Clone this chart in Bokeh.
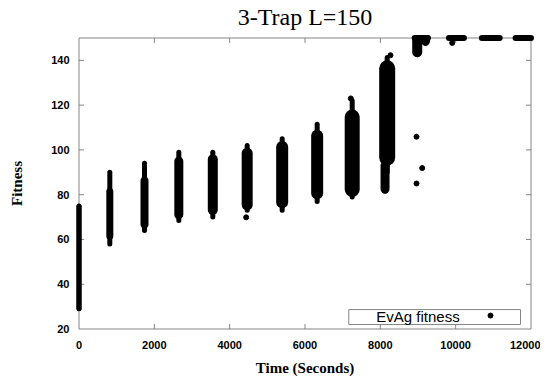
from bokeh.plotting import figure
from bokeh.models import ColumnDataSource, Range1d, FixedTicker, Label, BoxAnnotation
from bokeh.embed import file_html
from bokeh.resources import INLINE

# ---------------- data ----------------
TITLE = "3-Trap L=150"
X_LABEL = "Time (Seconds)"
Y_LABEL = "Fitness"
LEGEND_LABEL = "EvAg fitness"
X_TICKS = [0, 2000, 4000, 6000, 8000, 10000, 12000]
Y_TICKS = [20, 40, 60, 80, 100, 120, 140]
X_LIM = [0, 12000]
Y_LIM = [20, 150]

# vertical point clouds (time of snapshot, extreme points, dense core)
cluster_time = [0, 818, 1739, 2650, 3552, 4465, 5394, 6323, 7253, 8182, 8125, 8979, 9200]
cluster_min = [29, 58, 64, 68.5, 70, 73, 73, 77, 79, 90, 81.5, 142.5, 147.5]
cluster_max = [75, 90, 94, 99, 99, 102, 105, 111.5, 122, 141.3, 95, 150, 150]
dense_low = [28, 60, 65, 69, 71, 73, 74, 78, 79, 93, 80.5, 141.4, 146.6]
dense_high = [76, 83, 88, 97, 98, 101, 104, 109, 118, 140, 95, 151, 151]
dense_width_px = [5, 7, 8, 9, 10, 11, 12, 12, 15, 16, 9, 10, 9]

# clouds at the optimum (fitness 150), spread along time
top_start = [8912, 9821, 10696, 11591]
top_end = [9265, 10219, 11169, 12000]
top_fitness = [150, 150, 150, 150]

# isolated individuals
single_time = [8960, 9111, 8960, 4438, 7216, 8270, 9908]
single_fitness = [105.9, 91.9, 85.0, 69.9, 123.0, 142.3, 147.8]

# ---------------- layout (pixels) ----------------
DATA_W_PX, DATA_H_PX, PAD_PX = 452, 292, 4.5
ML, MR, MT, MB = 74, 5, 33, 44
px_x = DATA_W_PX / (X_LIM[1] - X_LIM[0])
px_y = DATA_H_PX / (Y_LIM[1] - Y_LIM[0])
W = int(ML + DATA_W_PX + 2 * PAD_PX + MR)
H = int(MT + DATA_H_PX + 2 * PAD_PX + MB)

def px2x(px):
    return X_LIM[0] + px / px_x

def px2y(py):
    return Y_LIM[0] + py / px_y

GRAY = "#858585"
INK = "black"

p = figure(width=W, height=H, output_backend="svg", toolbar_location=None,
           x_range=Range1d(X_LIM[0] - PAD_PX / px_x, X_LIM[1] + PAD_PX / px_x),
           y_range=Range1d(Y_LIM[0] - PAD_PX / px_y, Y_LIM[1] + PAD_PX / px_y),
           min_border_left=ML, min_border_right=MR, min_border_top=MT, min_border_bottom=MB)
p.outline_line_color = None
p.xgrid.grid_line_color = None
p.ygrid.grid_line_color = None
p.background_fill_color = "white"
p.border_fill_color = "white"

p.title.text = TITLE
p.title.align = "center"
p.title.vertical_align = "top"
p.title.text_font = "Liberation Serif"
p.title.text_font_style = "normal"
p.title.text_font_size = "24px"
p.title.text_color = INK
p.title.standoff = 4

for ax, ticks in ((p.xaxis, X_TICKS), (p.yaxis, Y_TICKS)):
    ax.ticker = FixedTicker(ticks=ticks)
    ax.axis_line_color = None
    ax.major_tick_line_color = None
    ax.minor_tick_line_color = None
    ax.major_tick_in = 0
    ax.major_tick_out = 0
    ax.major_label_text_font = "Liberation Sans"
    ax.major_label_text_font_style = "bold"
    ax.major_label_text_font_size = "11px"
    ax.major_label_text_color = INK
    ax.axis_label_text_font = "Liberation Serif"
    ax.axis_label_text_font_style = "bold"
    ax.axis_label_text_font_size = "15px"
    ax.axis_label_text_color = INK
p.xaxis.axis_label = X_LABEL
p.yaxis.axis_label = Y_LABEL
p.xaxis.major_label_standoff = 7
p.xaxis.axis_label_standoff = 8
p.yaxis.major_label_standoff = 5
p.yaxis.axis_label_standoff = 23

# border box and inward ticks (mirrored on all four sides)
p.quad(left=[X_LIM[0]], right=[X_LIM[1]], bottom=[Y_LIM[0]], top=[Y_LIM[1]],
       fill_color=None, line_color=GRAY, line_width=1)
TICK_PX = 5
xt = X_TICKS[1:-1]
yt = Y_TICKS[1:]
p.segment(x0=xt, y0=[Y_LIM[0]] * len(xt), x1=xt, y1=[Y_LIM[0] + TICK_PX / px_y] * len(xt),
          line_color=GRAY, line_width=1)
p.segment(x0=xt, y0=[Y_LIM[1]] * len(xt), x1=xt, y1=[Y_LIM[1] - TICK_PX / px_y] * len(xt),
          line_color=GRAY, line_width=1)
p.segment(x0=[X_LIM[0]] * len(yt), y0=yt, x1=[X_LIM[0] + TICK_PX / px_x] * len(yt), y1=yt,
          line_color=GRAY, line_width=1)
p.segment(x0=[X_LIM[1]] * len(yt), y0=yt, x1=[X_LIM[1] - TICK_PX / px_x] * len(yt), y1=yt,
          line_color=GRAY, line_width=1)

# point clouds: thin full-range stroke + wide dense core
DOT_PX = 5
src = ColumnDataSource(dict(
    x=cluster_time,
    lo=cluster_min,
    hi=cluster_max,
    dlo=[lo + w / 2 / px_y for lo, w in zip(dense_low, dense_width_px)],
    dhi=[hi - w / 2 / px_y for hi, w in zip(dense_high, dense_width_px)],
    w=dense_width_px,
))
p.segment(x0="x", y0="lo", x1="x", y1="hi", source=src, line_width=DOT_PX,
          line_color=INK, line_cap="round")
p.segment(x0="x", y0="dlo", x1="x", y1="dhi", source=src, line_width="w",
          line_color=INK, line_cap="round")

p.segment(x0=top_start, y0=top_fitness, x1=top_end, y1=top_fitness,
          line_width=DOT_PX + 1, line_color=INK, line_cap="round")

p.scatter(single_time, single_fitness, size=DOT_PX, color=INK)

# legend (gnuplot style: label then sample)
p.add_layout(BoxAnnotation(left=px2x(269.8), right=px2x(441.5), bottom=px2y(4.5), top=px2y(19.5),
                           fill_color=None, line_color=GRAY, line_width=1, line_alpha=1))
p.add_layout(Label(x=px2x(339), y=px2y(12.2), text=LEGEND_LABEL,
                   text_align="center", text_baseline="middle",
                   text_font="Liberation Sans", text_font_size="15px", text_color=INK))
p.scatter([px2x(411.5)], [px2y(13.5)], size=DOT_PX, color=INK)

open("out.html", "w").write(file_html(p, INLINE))
